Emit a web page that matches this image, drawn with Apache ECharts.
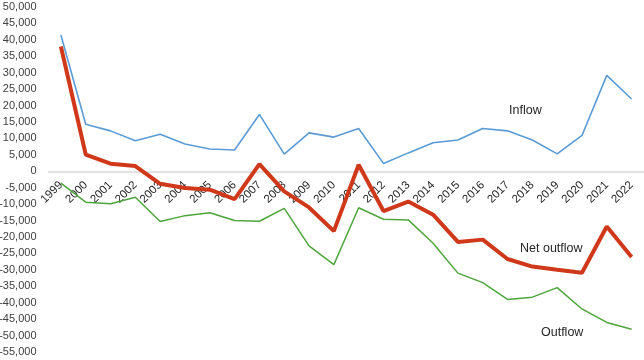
<!DOCTYPE html>
<html>
<head>
<meta charset="utf-8">
<script src="https://cdn.jsdelivr.net/npm/echarts@6/dist/echarts.min.js"></script>
<style>
  html, body { margin: 0; padding: 0; background: #fff; }
  #chart { width: 644px; height: 360px; }
</style>
</head>
<body>
<div id="chart"></div>
<script>
const years = ['1999', '2000', '2001', '2002', '2003', '2004', '2005', '2006', '2007', '2008', '2009', '2010',
  '2011', '2012', '2013', '2014', '2015', '2016', '2017', '2018', '2019', '2020', '2021', '2022']

const inflow = [41500, 14300, 12300, 9300, 11300, 8300, 6800, 6500, 17300, 5200, 11700, 10400,
  13000, 2400, 5600, 8700, 9500, 13000, 12300, 9500, 5300, 10900, 29200, 22000]

const outflow = [-3600, -9400, -9900, -7900, -15300, -13500, -12600, -15000, -15200, -11300, -22700, -28400,
  -11100, -14600, -14800, -21900, -31000, -33900, -39000, -38300, -35400, -41900, -46000, -48100]

const netOutflow = [38000, 5100, 2300, 1600, -3800, -5100, -5600, -8500, 2200, -6100, -11000, -18200,
  2000, -12100, -9200, -13200, -21500, -20800, -26700, -29000, -30000, -30900, -16800, -26100]

const yMin = -55000
const yMax = 50000
const font = 'Liberation Sans'

const gridTop = 7
const gridBottom = 8
const plotH = 360 - gridTop - gridBottom
// the category axis sits on the zero line, so move it up from the bottom edge
const zeroOffset = -plotH * (0 - yMin) / (yMax - yMin)

const chart = echarts.init(document.getElementById('chart'))

function line(name, data, color, width) {
  return {
    name,
    type: 'line',
    data,
    symbol: 'none',
    silent: true,
    lineStyle: { width, color },
    itemStyle: { color }
  }
}

function note(text, left, top) {
  return {
    type: 'text',
    left, top,
    style: { text, fill: '#262626', font: `12.5px "${font}"` }
  }
}

chart.setOption({
  animation: false,
  grid: { left: 48.5, right: 0, top: gridTop, bottom: gridBottom, containLabel: false, outerBoundsMode: 'none' },
  xAxis: {
    type: 'category',
    data: years,
    position: 'bottom',
    offset: zeroOffset,
    axisLine: { onZero: false, lineStyle: { color: '#d9d9d9', width: 1.5 } },
    axisTick: { show: false },
    axisLabel: { rotate: 45, interval: 0, margin: 12, color: '#262626', fontFamily: font, fontSize: 11.5 }
  },
  yAxis: {
    type: 'value',
    min: yMin,
    max: yMax,
    interval: 5000,
    axisLine: { show: false },
    axisTick: { show: false },
    splitLine: { show: false },
    axisLabel: {
      margin: 12,
      color: '#404040',
      fontFamily: font,
      fontSize: 11,
      formatter: (v) => v.toLocaleString('en-US')
    }
  },
  graphic: [
    note('Inflow', 509, 104),
    note('Net outflow', 520, 242),
    note('Outflow', 541, 326)
  ],
  series: [
    line('Inflow', inflow, '#5b9bd5', 1.6),
    line('Outflow', outflow, '#4ea53c', 1.5),
    line('Net outflow', netOutflow, '#d0381a', 4)
  ]
})
</script>
</body>
</html>
